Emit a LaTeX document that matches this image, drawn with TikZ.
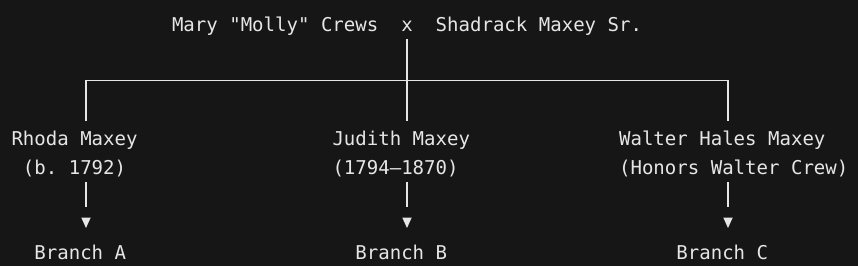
\documentclass[tikz,border=0pt]{standalone}
\usepackage{fontspec}
\usetikzlibrary{arrows.meta}
\newfontfamily\codefont{DejaVu Sans Mono}
\definecolor{bgc}{HTML}{161616}
\definecolor{fgc}{HTML}{E6E6E6}
\frenchspacing
\begin{document}
\begin{tikzpicture}[x=1pt,y=-1pt,
  txt/.style={anchor=base west,inner sep=0pt,outer sep=0pt,text=fgc,font=\codefont\fontsize{19.04}{22}\selectfont},
  ln/.style={draw=fgc,line width=1.3pt},
  down/.style={ln,dash pattern=on 25pt off 60pt,-{Triangle[length=10.5pt,width=9.5pt,fill=fgc,line width=0pt]}}]
\fill[bgc] (0,0) rectangle (858,266);
\useasboundingbox (0,0) rectangle (858,266);
% top row
\node[txt] (mary) at (172.0,31) {Mary "Molly" Crews};
\node[txt] (x) at (401.3,31) {x};
\node[txt] (shad) at (435.7,31) {Shadrack Maxey Sr.};
% children
\node[txt] (rhoda) at (11.5,145.4) {Rhoda Maxey};
\node[txt] (rhodad) at (22.96,174) {(b.\ 1792)};
\node[txt] (judith) at (332.5,145.4) {Judith Maxey};
\node[txt] (judithd) at (332.5,174) {(1794–1870)};
\node[txt] (walter) at (619.1,145.4) {Walter Hales Maxey};
\node[txt] (walterd) at (619.1,174) {(Honors Walter Crew)};
% branches
\node[txt] (brA) at (34.43,259.8) {Branch A};
\node[txt] (brB) at (355.4,259.8) {Branch B};
\node[txt] (brC) at (676.4,259.8) {Branch C};
% coordinates
\coordinate (xtop) at (407,39);
\coordinate (hL) at (86,80.7);
\coordinate (hR) at (728,80.7);
\coordinate (cA) at (86,121);
\coordinate (cB) at (407,121);
\coordinate (cC) at (728,121);
\coordinate (dA) at (86,182);
\coordinate (dB) at (407,182);
\coordinate (dC) at (728,182);
\coordinate (tA) at (86,228);
\coordinate (tB) at (407,228);
\coordinate (tC) at (728,228);
% connectors
\draw[ln] (xtop) -- (cB);
\draw[ln] (cA) -- (hL) -- (hR) -- (cC);
\draw[down] (dA) -- (tA);
\draw[down] (dB) -- (tB);
\draw[down] (dC) -- (tC);
\end{tikzpicture}
\end{document}
